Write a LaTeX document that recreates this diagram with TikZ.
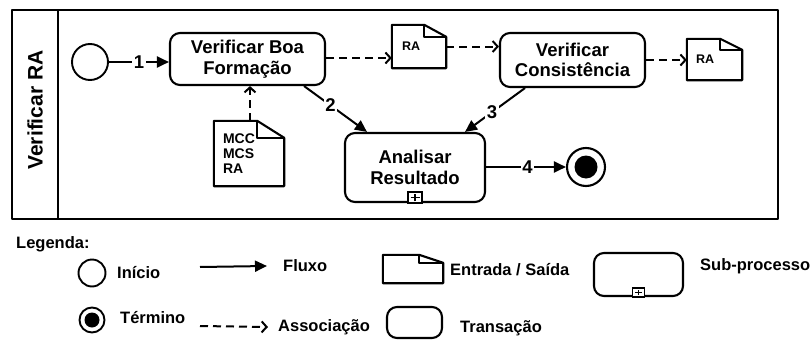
\documentclass[tikz,border=0pt]{standalone}
\usepackage{fontspec}
\setmainfont{Liberation Sans}
\usetikzlibrary{arrows.meta}

\tikzset{
  every node/.style={font=\bfseries},
  shape line/.style={line width=2.1pt, line join=round},
  task/.style={shape line, draw, rectangle, rounded corners=10pt, align=center,
    inner sep=0pt, font=\fontsize{18.5}{20.5}\selectfont\bfseries},
  docbox/.style={rectangle, inner ysep=0pt, align=left,
    font=\fontsize{12.5}{15}\selectfont\bfseries},
  flow/.style={line width=2pt, -{Triangle[length=12pt,width=11pt]}},
  assoc/.style={line width=2pt, dash pattern=on 8pt off 5pt,
    -{Straight Barb[length=5pt,width=11pt,line width=2pt]}},
  seqlabel/.style={fill=white, inner sep=1.5pt, font=\fontsize{18.5}{20}\selectfont\bfseries},
  legendtext/.style={anchor=west, inner sep=0pt, font=\fontsize{16.5}{18}\selectfont\bfseries},
}

% document symbol with a folded top-right corner
\newcommand\docfold[3]{%
  \draw[shape line] (#1.south west) -- (#1.north west) -- ([xshift=-#2]#1.north east)
    -- ([yshift=-#3]#1.north east) -- (#1.south east) -- cycle;
  \draw[shape line] ([xshift=-#2]#1.north east) -- ([xshift=-#2,yshift=-#3]#1.north east)
    -- ([yshift=-#3]#1.north east);
}
% sub-process marker: small box with a plus at the bottom of a task
\newcommand\submarker[4]{%
  \draw[line width=#4, fill=white] ([xshift=-#2/2]#1.south) rectangle ([xshift=#2/2,yshift=#3]#1.south);
  \draw[line width=#4] ([xshift=-#2/2+2.5pt,yshift=#3/2]#1.south) -- ([xshift=#2/2-2.5pt,yshift=#3/2]#1.south);
  \draw[line width=#4] ([yshift=1.8pt]#1.south) -- ([yshift=#3-1.8pt]#1.south);
}

\begin{document}
\begin{tikzpicture}[x=1pt, y=-1pt]
\useasboundingbox (0,0) rectangle (811,340);

% pool and lane header
\node[draw, shape line, rectangle, minimum width=766pt, minimum height=209pt, inner sep=0pt]
  (pool) at (395,114.5) {};
\coordinate (divtop) at (58,10);
\coordinate (divbot) at (58,219);
\draw[shape line] (divtop) -- (divbot);
\node[rotate=90, font=\fontsize{21}{23}\selectfont\bfseries] (lane) at (35,110) {Verificar RA};

% events
\node[draw, circle, line width=1.9pt, minimum size=36pt, inner sep=0pt] (start) at (90,62) {};
\node[draw, circle, line width=2.1pt, minimum size=38pt, inner sep=0pt] (end) at (586,167) {};
\node[fill=black, circle, minimum size=23pt, inner sep=0pt] (endcore) at (586,167) {};

% tasks
\node[task, minimum width=155pt, minimum height=52pt] (t1) at (247.5,59) {Verificar Boa\\Formação};
\node[task, minimum width=145pt, minimum height=54pt] (t2) at (572.5,60) {Verificar\\Consistência};
\node[task, minimum width=140pt, minimum height=69pt] (t3) at (415,167.5) {Analisar\\Resultado};
\submarker{t3}{14pt}{11pt}{1.6pt}

% data objects
\node[docbox, minimum width=54pt, minimum height=43pt, text width=34pt, inner xsep=10pt] (ra1) at (419,46.5) {RA};
\docfold{ra1}{22pt}{12pt}
\node[docbox, minimum width=70pt, minimum height=65pt, text width=52pt, inner xsep=9pt,
  font=\fontsize{14}{15}\selectfont\bfseries] (inputs) at (249,153.5) {MCC\\MCS\\RA};
\docfold{inputs}{27pt}{17pt}
\node[docbox, minimum width=55pt, minimum height=41pt, text width=37pt, inner xsep=9pt] (ra2) at (714.5,59.5) {RA};
\docfold{ra2}{22pt}{11pt}

% sequence flows
\draw[flow] (start.east) -- node[seqlabel] {1} (start.east -| t1.west);
\draw[flow] ([xshift=-22pt]t1.south east) -- node[seqlabel, pos=0.42] {2} ([xshift=-48pt]t3.north);
\draw[flow] ([xshift=-47.5pt]t2.south) -- node[seqlabel, pos=0.55] {3} ([xshift=50pt]t3.north);
\draw[flow] (t3.east |- end.west) -- node[seqlabel, pos=0.52] {4} (end.west);

% associations
\draw[assoc] ([yshift=1pt]t1.east) -- ([yshift=1pt]t1.east -| ra1.west);
\draw[assoc] (ra1.east) -- (ra1.east -| t2.west);
\draw[assoc] (t2.east) -- (t2.east -| ra2.west);
\draw[assoc] ([xshift=1pt]inputs.north) -- ([xshift=1pt]inputs.north |- t1.south);

% legend
\node[legendtext] (legtitle) at (16,244) {Legenda:};

\node[draw, circle, line width=1.9pt, minimum size=27pt, inner sep=0pt] (lgstart) at (92,273) {};
\node[legendtext] (lgstarttxt) at (117,273) {Início};

\node[draw, circle, line width=1.9pt, minimum size=25pt, inner sep=0pt] (lgend) at (92,320) {};
\node[fill=black, circle, minimum size=15pt, inner sep=0pt] (lgendcore) at (92,320) {};
\node[legendtext] (lgendtxt) at (120,318) {Término};

\coordinate (lgflowa) at (200,267);
\node[legendtext] (lgflowtxt) at (283,266) {Fluxo};
\draw[flow] (lgflowa) -- ([xshift=-16pt]lgflowtxt.west);

\coordinate (lgassoca) at (200,326);
\node[legendtext] (lgassoctxt) at (278,327) {Associação};
\draw[assoc] (lgassoca) -- ([xshift=-10pt]lgassoctxt.west);

\node[rectangle, minimum width=60pt, minimum height=28pt, inner sep=0pt] (lgdoc) at (413,269) {};
\docfold{lgdoc}{24pt}{8pt}
\node[legendtext] (lgdoctxt) at (450,270) {Entrada / Saída};

\node[task, minimum width=55pt, minimum height=31pt] (lgtask) at (414.5,322.5) {};
\node[legendtext] (lgtasktxt) at (460,328) {Transação};

\node[task, minimum width=89pt, minimum height=43pt] (lgsub) at (638.5,274.5) {};
\submarker{lgsub}{12pt}{9pt}{1.3pt}
\node[legendtext] (lgsubtxt) at (700,266) {Sub-processo};

\end{tikzpicture}
\end{document}
